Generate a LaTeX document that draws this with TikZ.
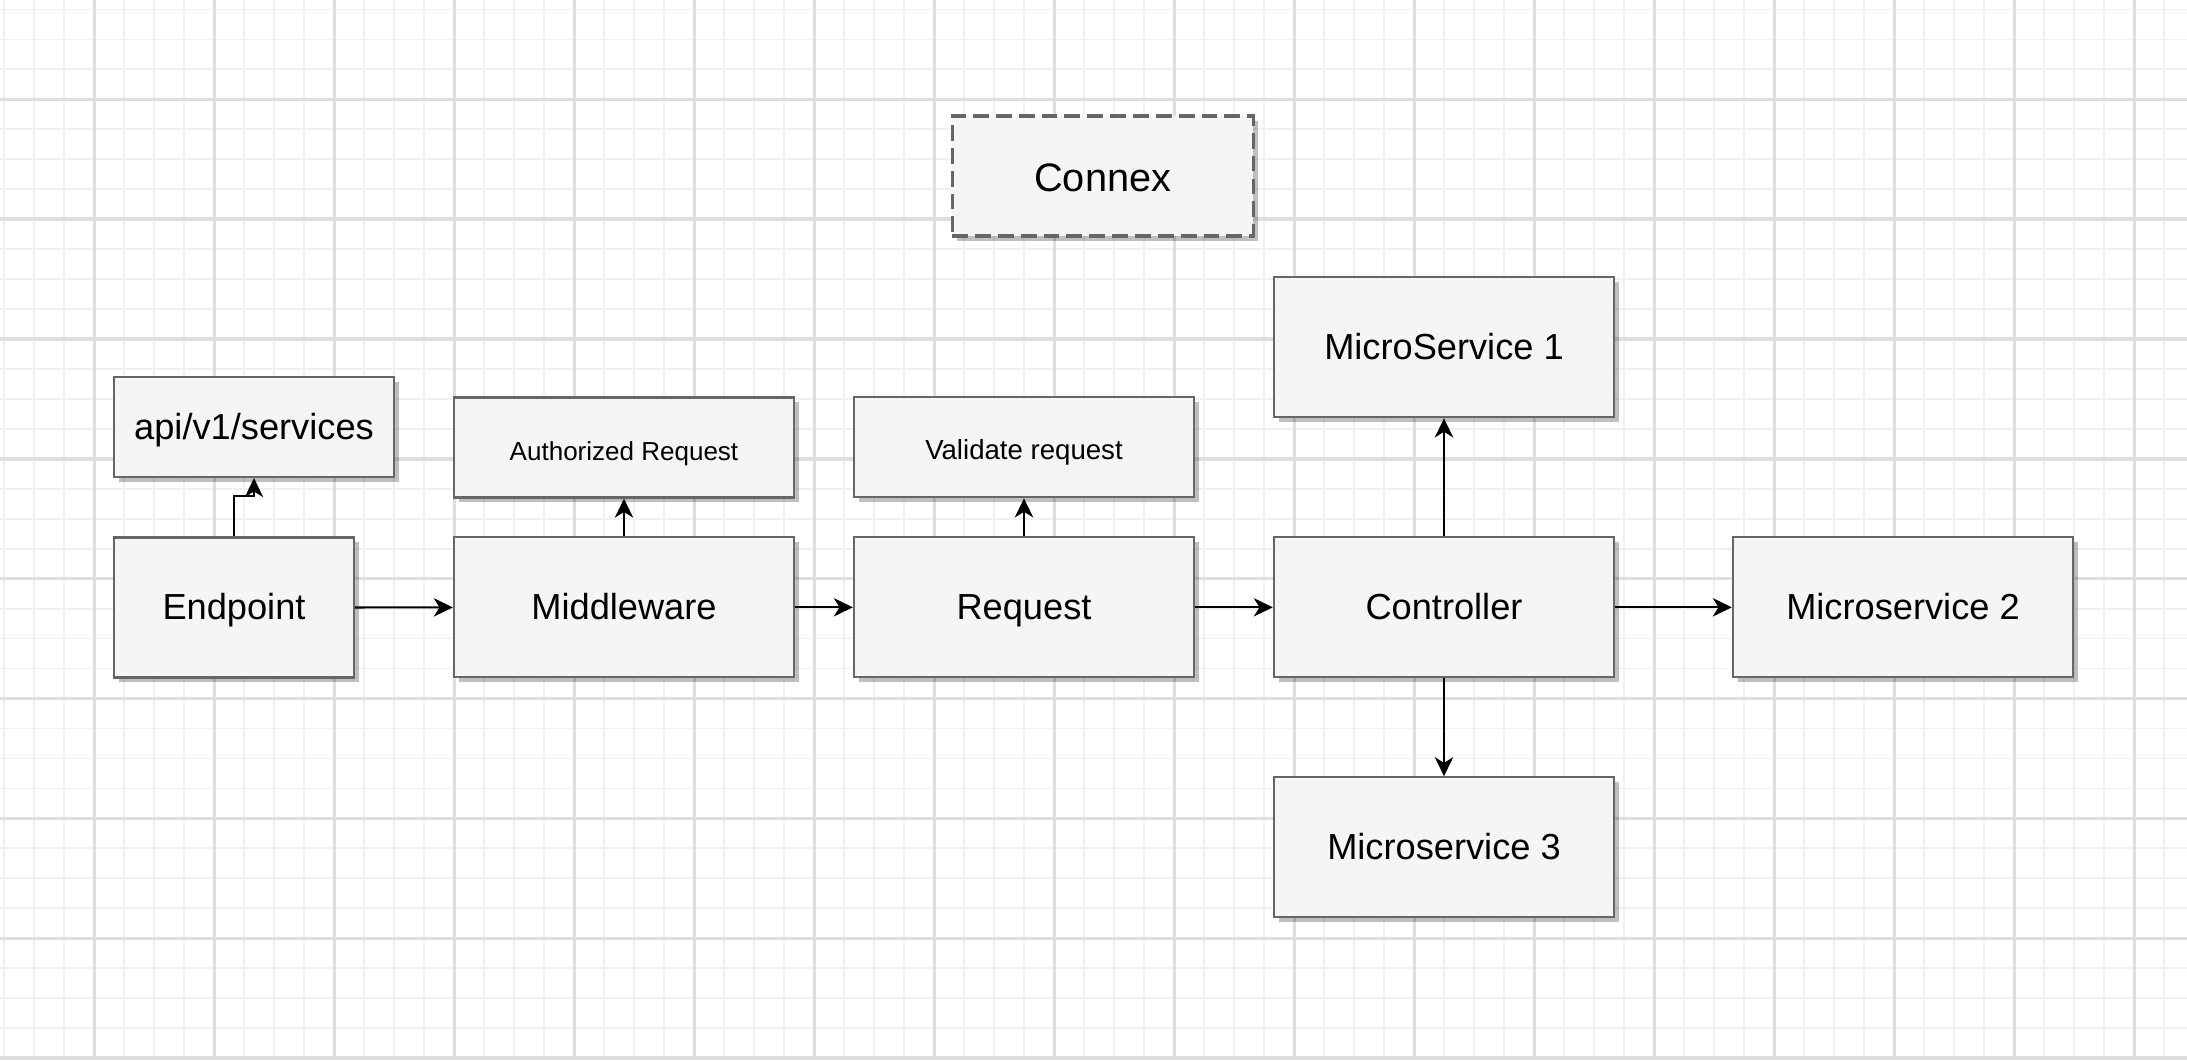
\documentclass[tikz,border=0pt]{standalone}
\usepackage{fontspec}
\setmainfont{Liberation Sans}
\usetikzlibrary{positioning, arrows.meta, shadows}
\definecolor{boxline}{HTML}{666666}
\definecolor{boxfill}{HTML}{F5F5F5}
\definecolor{gridmaj}{HTML}{DEDEDE}
\definecolor{gridmin}{HTML}{F0F0F0}
\tikzset{% 
	>={Stealth[length = 5.4pt, width = 5.2pt, inset = 1.6pt]},
	every edge/.append style={line width = 0.6pt},
	gmin/.style = {draw = gridmin, line width = 0.5pt},
	gmaj/.style = {draw = gridmaj, line width = 0.95pt},
	blk/.style = {name = #1, rectangle, draw = boxline, fill = boxfill, line width = 0.6pt, inner sep = 0pt,
		text height = 7.1pt, text depth = 0pt, font = \fontsize{10.3}{12}\selectfont,
		drop shadow = {shadow xshift = 1.4pt, shadow yshift = -1.4pt, fill = black, opacity = 0.25}},
	big/.style = {minimum width = 3.4cm, minimum height = 1.4cm},
	note/.style = {minimum width = 3.4cm, minimum height = 1cm, text height = 7.2pt}
}
\begin{document}
\begin{tikzpicture}[x = 0.01cm, y = -0.01cm]
		\useasboundingbox (0,0) rectangle (2187,1060);
		\fill [white] (0,0) rectangle (2187,1060);
		% grid
		\foreach \i in {-3,...,69} \draw [gmin] ({94.3+30*\i},0) -- ++(0,1060);
		\foreach \j in {-3,...,32} \draw [gmin] (0,{99.3+29.96*\j}) -- ++(2187,0);
		\foreach \i in {0,...,17} \draw [gmaj] ({94.3+120*\i},0) -- ++(0,1060);
		\foreach \j in {0,...,8} \draw [gmaj] (0,{99.3+119.85*\j}) -- ++(2187,0);
		% boxes
		\node [blk = connex, minimum width = 3.01cm, minimum height = 1.2cm, dash pattern = on 4.5pt off 2pt, line width = 0.9pt,
			text height = 8.6pt, font = \fontsize{11.3}{13}\selectfont] at (1102.7,176) {Connex};
		\node [blk = api, minimum width = 2.8cm, minimum height = 1cm] at (254,427) {api/v1/services};
		\node [blk = endpt, minimum width = 2.4cm, minimum height = 1.4cm] at (234,607.5) {Endpoint};
		\node [blk = auth, note, font = \fontsize{7.4}{9}\selectfont] at (624,447.5) {Authorized Request};
		\node [blk = mid, big] at (624,607.3) {Middleware};
		\node [blk = valid, note, font = \fontsize{7.85}{9}\selectfont] at (1024,447.3) {Validate request};
		\node [blk = req, big] at (1024,607.3) {Request};
		\node [blk = ctrl, big] at (1444,607.3) {Controller};
		\node [blk = ms1, big] at (1444,347.3) {MicroService 1};
		\node [blk = ms2, big] at (1903,607.3) {Microservice 2};
		\node [blk = ms3, big] at (1444,847.3) {Microservice 3};
		% connectors
		\draw [->, line width = 0.6pt] (endpt.north) -- ++(0,-40) -| (api.south);
		\path [->] (endpt) edge (mid);
		\path [->] (mid) edge (req);
		\path [->] (req) edge (ctrl);
		\path [->] (ctrl) edge (ms2);
		\path [->] (mid) edge (auth);
		\path [->] (req) edge (valid);
		\path [->] (ctrl) edge (ms1);
		\path [->] (ctrl) edge (ms3);
		\end{tikzpicture}
\end{document}
